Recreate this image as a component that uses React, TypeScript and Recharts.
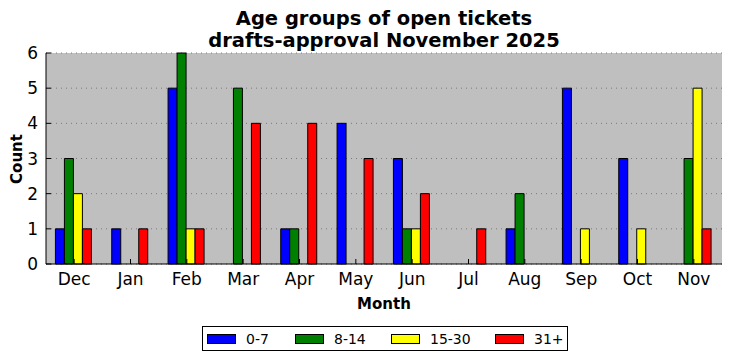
import { BarChart, Bar, XAxis, YAxis, CartesianGrid } from 'recharts'

const months = ['Dec', 'Jan', 'Feb', 'Mar', 'Apr', 'May', 'Jun', 'Jul', 'Aug', 'Sep', 'Oct', 'Nov']
const age0to7 = [1, 1, 5, 0, 1, 4, 3, 0, 1, 5, 3, 0]
const age8to14 = [3, 0, 6, 5, 1, 0, 1, 0, 2, 0, 0, 3]
const age15to30 = [2, 0, 1, 0, 0, 0, 1, 0, 0, 1, 1, 5]
const age31plus = [1, 1, 1, 4, 4, 3, 2, 1, 0, 0, 0, 1]
const yTicks = [0, 1, 2, 3, 4, 5, 6]

const series = [
  { key: 'a', label: '0-7', color: '#0000ff' },
  { key: 'b', label: '8-14', color: '#008000' },
  { key: 'c', label: '15-30', color: '#ffff00' },
  { key: 'd', label: '31+', color: '#ff0000' },
]
// legend item widths, swatch to swatch
const legendWidths = [88, 96, 104, 40]

const data = months.map((m, i) => ({
  month: m,
  a: age0to7[i],
  b: age8to14[i],
  c: age15to30[i],
  d: age31plus[i],
}))

const font = '"DejaVu Sans", sans-serif'

export default function App() {
  return (
    <div style={{ position: 'absolute', left: 0, top: 0, width: 732, height: 361, background: '#fff', fontFamily: font }}>
      <div style={{ position: 'absolute', left: 46, width: 676, top: 8, textAlign: 'center', fontWeight: 'bold', fontSize: 19.5, lineHeight: '22px', color: '#000' }}>
        Age groups of open tickets
        <br />
        drafts-approval November 2025
      </div>
      <BarChart
        width={732}
        height={361}
        data={data}
        margin={{ top: 53, right: 10, left: 0, bottom: 67 }}
        barCategoryGap="16.7%"
        barGap={0}
      >
        <CartesianGrid
          vertical={false}
          fill="#bfbfbf"
          stroke="#7a7a7a"
          strokeDasharray="1 4"
          fillOpacity={1}
        />
        <XAxis
          dataKey="month"
          height={30}
          interval={0}
          tickSize={-5}
          tickMargin={14}
          axisLine={{ stroke: '#000' }}
          tickLine={{ stroke: '#000' }}
          tick={{ fill: '#000', fontSize: 17, fontFamily: font }}
        />
        <XAxis
          xAxisId="top"
          orientation="top"
          dataKey="month"
          height={0}
          interval={0}
          tickSize={-5}
          tick={false}
          axisLine={{ stroke: '#000' }}
          tickLine={{ stroke: '#000' }}
        />
        <YAxis
          width={46}
          domain={[0, 6]}
          ticks={yTicks}
          interval={0}
          tickSize={-5}
          tickMargin={13}
          axisLine={{ stroke: '#000' }}
          tickLine={{ stroke: '#000' }}
          tick={{ fill: '#000', fontSize: 17, fontFamily: font }}
        />
        <YAxis
          yAxisId="right"
          orientation="right"
          width={0}
          domain={[0, 6]}
          ticks={yTicks}
          interval={0}
          tickSize={-5}
          tick={false}
          axisLine={{ stroke: '#000' }}
          tickLine={{ stroke: '#000' }}
        />
        {series.map(s => (
          <Bar
            key={s.key}
            dataKey={s.key}
            name={s.label}
            fill={s.color}
            stroke="#000"
            strokeWidth={1}
            isAnimationActive={false}
          />
        ))}
      </BarChart>
      <div style={{ position: 'absolute', left: 0, top: 159, transform: 'translate(-50%, -50%) rotate(-90deg)', marginLeft: 17, fontWeight: 'bold', fontSize: 15, color: '#000', whiteSpace: 'nowrap' }}>
        Count
      </div>
      <div style={{ position: 'absolute', left: 46, width: 676, top: 295, textAlign: 'center', fontWeight: 'bold', fontSize: 15, color: '#000' }}>
        Month
      </div>
      <div style={{ position: 'absolute', left: 202, top: 326, width: 364, height: 23, border: '1px solid #000', background: '#fff', display: 'flex', alignItems: 'center', fontSize: 14, color: '#000' }}>
        {series.map((s, i) => (
          <div key={s.key} style={{ display: 'flex', alignItems: 'center', flexShrink: 0, marginLeft: i === 0 ? 4 : 0, width: legendWidths[i] }}>
            <span style={{ display: 'inline-block', flexShrink: 0, width: 27, height: 8, background: s.color, border: '1px solid #000', marginRight: 10 }} />
            <span style={{ whiteSpace: 'nowrap' }}>{s.label}</span>
          </div>
        ))}
      </div>
    </div>
  )
}
